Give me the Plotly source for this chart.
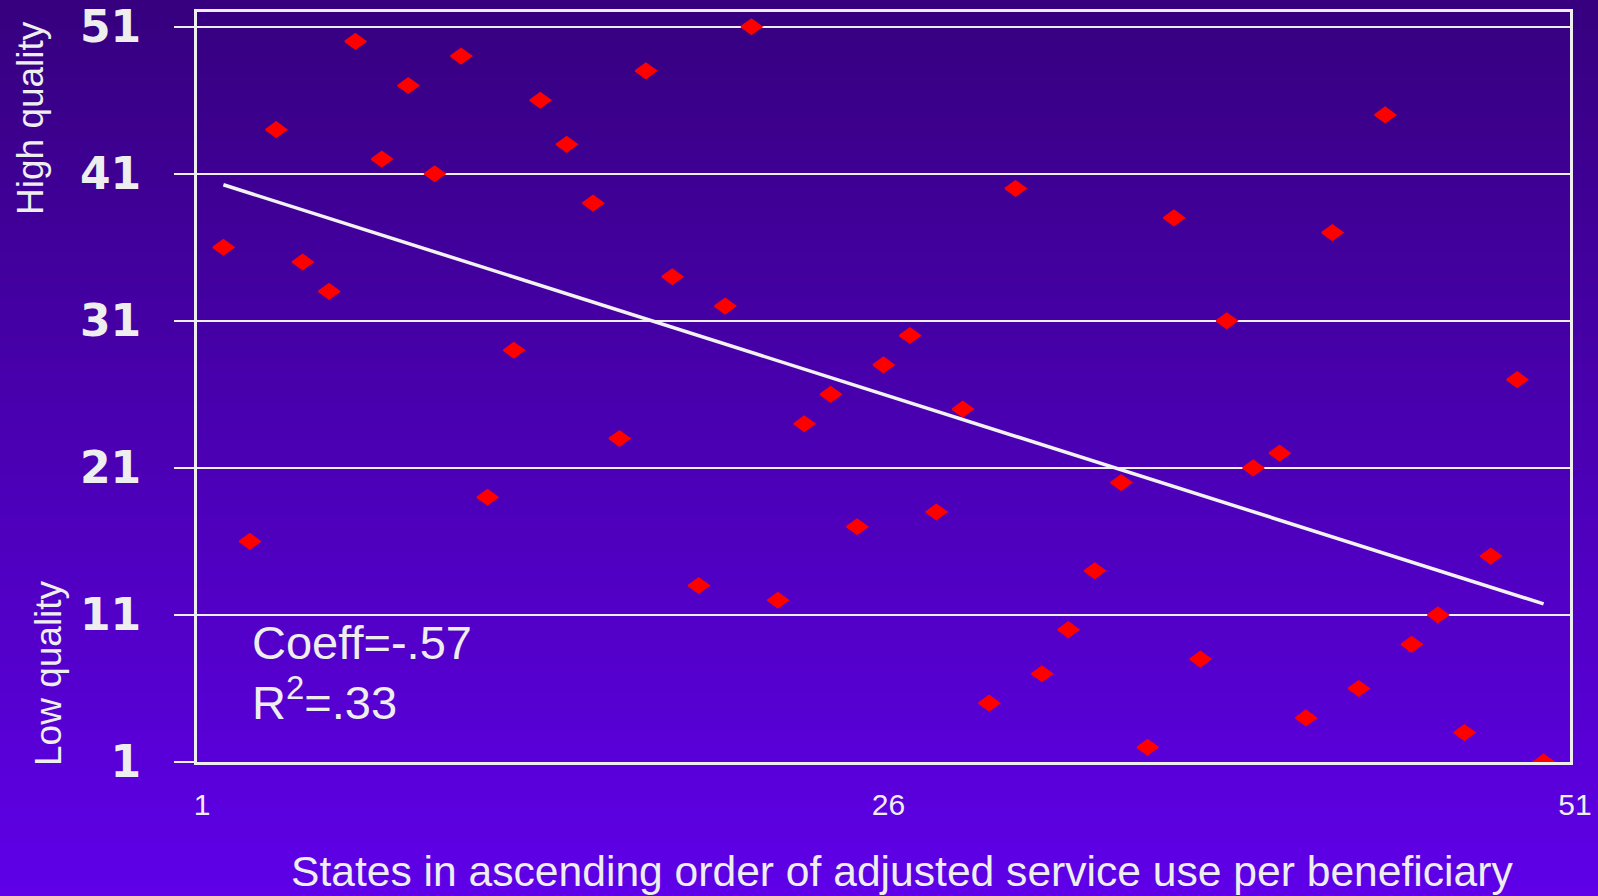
import plotly.graph_objects as go

# State position in ascending order of adjusted service use per beneficiary
state_order = [1, 2, 3, 4, 5, 6, 7, 8, 9, 10, 11, 12, 13, 14, 15, 16, 17,
               18, 19, 20, 21, 22, 23, 24, 25, 26, 27, 28, 29, 30, 31, 32, 33,
               34, 35, 36, 37, 38, 39, 40, 41, 42, 43, 44, 45, 46, 47, 48, 49,
               50, 51]
# Quality rank of each state (51 = highest quality, 1 = lowest)
quality_rank = [36, 16, 44, 35, 33, 50, 42, 47, 41, 49, 19, 29, 46, 43, 39,
                23, 48, 34, 13, 32, 51, 12, 24, 26, 17, 28, 30, 18, 25, 5, 40,
                7, 10, 14, 20, 2, 38, 8, 31, 21, 22, 4, 37, 6, 45, 9, 11, 3,
                15, 27, 1]

COEFF = -0.57
R_SQUARED = ".33"
MEAN_RANK = 26

y_tick_vals = [1, 11, 21, 31, 41, 51]
x_tick_vals = [0, 26, 52]
x_tick_text = ["1", "26", "51"]

W, H = 1598, 896
ML, MR, MT, MB = 197, 28, 12, 134
PW, PH = W - ML - MR, H - MT - MB

TXT = "#EEEEEE"
LINE = "#EEEEEE"
SANS = "Liberation Sans, Arial"

fig = go.Figure()

# Diamond markers (wider than tall) as filled polygons in data space
DX, DY = 0.40, 0.52
px, py = [], []
for xv, yv in zip(state_order, quality_rank):
    px += [xv - DX, xv, xv + DX, xv, xv - DX, None]
    py += [yv, yv + DY, yv, yv - DY, yv, None]
fig.add_trace(go.Scatter(
    x=px, y=py, mode="lines", fill="toself", fillcolor="#FF0000",
    line=dict(color="#FF0000", width=1.5), hoverinfo="skip", showlegend=False,
    cliponaxis=False,
))

# Linear trend line from the reported coefficient
tx = [state_order[0], state_order[-1]]
ty = [MEAN_RANK + COEFF * (v - MEAN_RANK) for v in tx]
fig.add_trace(go.Scatter(
    x=tx, y=ty, mode="lines", line=dict(color="#F2F2F2", width=3.5),
    hoverinfo="skip", showlegend=False,
))

# Vertical purple gradient behind the whole figure
top_rgb = (54, 0, 126)
bot_rgb = (95, 0, 232)
N = 120
y_top = 1 + MT / PH
y_bot = -MB / PH
shapes = []
for i in range(N):
    t = (i + 0.5) / N
    c = tuple(round(a + (b - a) * t) for a, b in zip(top_rgb, bot_rgb))
    y0 = y_top + (y_bot - y_top) * i / N
    y1 = y_top + (y_bot - y_top) * (i + 1) / N
    if i == 0:
        y0 += 0.05
    if i == N - 1:
        y1 -= 0.05
    shapes.append(dict(
        type="rect", xref="paper", yref="paper",
        x0=-0.5, x1=1.5, y0=y1 - 0.001, y1=y0 + 0.001,
        fillcolor="rgb(%d,%d,%d)" % c, line=dict(width=0), layer="below",
    ))

annotations = [
    dict(text="Coeff=-.57", x=2.0, y=9.1, xref="x", yref="y",
         xanchor="left", yanchor="middle", showarrow=False,
         font=dict(family=SANS, size=47, color=TXT)),
    dict(text="R<sup>2</sup>=" + R_SQUARED, x=2.0, y=5.3, xref="x", yref="y",
         xanchor="left", yanchor="middle", showarrow=False,
         font=dict(family=SANS, size=47, color=TXT)),
    dict(text="High quality", x=(31 - ML) / PW, y=(762 - 118) / PH,
         xref="paper", yref="paper", textangle=-90, showarrow=False,
         xanchor="center", yanchor="middle",
         font=dict(family=SANS, size=37, color=TXT)),
    dict(text="Low quality", x=(48 - ML) / PW, y=(762 - 673) / PH,
         xref="paper", yref="paper", textangle=-90, showarrow=False,
         xanchor="center", yanchor="middle",
         font=dict(family=SANS, size=37, color=TXT)),
    dict(text="States in ascending order of adjusted service use per beneficiary",
         x=(902 - ML) / PW, y=(762 - 871) / PH, xref="paper", yref="paper",
         xanchor="center", yanchor="middle", showarrow=False,
         font=dict(family=SANS, size=42.6, color=TXT)),
]

fig.update_layout(
    width=W, height=H,
    margin=dict(l=ML, r=MR, t=MT, b=MB, pad=0, autoexpand=False),
    paper_bgcolor="rgb(54,0,126)",
    plot_bgcolor="rgba(0,0,0,0)",
    shapes=shapes,
    annotations=annotations,
    showlegend=False,
    xaxis=dict(
        range=[0, 52], tickvals=x_tick_vals, ticktext=x_tick_text,
        showgrid=False, zeroline=False, showline=True, linecolor=LINE,
        linewidth=3, mirror=True, ticks="", ticklabelshift=5,
        ticklabelstandoff=14, automargin=False,
        tickfont=dict(family=SANS, size=30, color=TXT),
    ),
    yaxis=dict(
        range=[1, 52], tickvals=y_tick_vals, showgrid=True, gridcolor=LINE,
        gridwidth=2, zeroline=False, showline=True, linecolor=LINE,
        linewidth=3, mirror=True, ticks="outside", ticklen=20, tickwidth=2,
        tickcolor=LINE, ticklabelstandoff=24, automargin=False,
        tickfont=dict(family="DejaVu Sans", size=44, color=TXT,
                      weight="bold"),
    ),
)

fig.write_html("out.html")
